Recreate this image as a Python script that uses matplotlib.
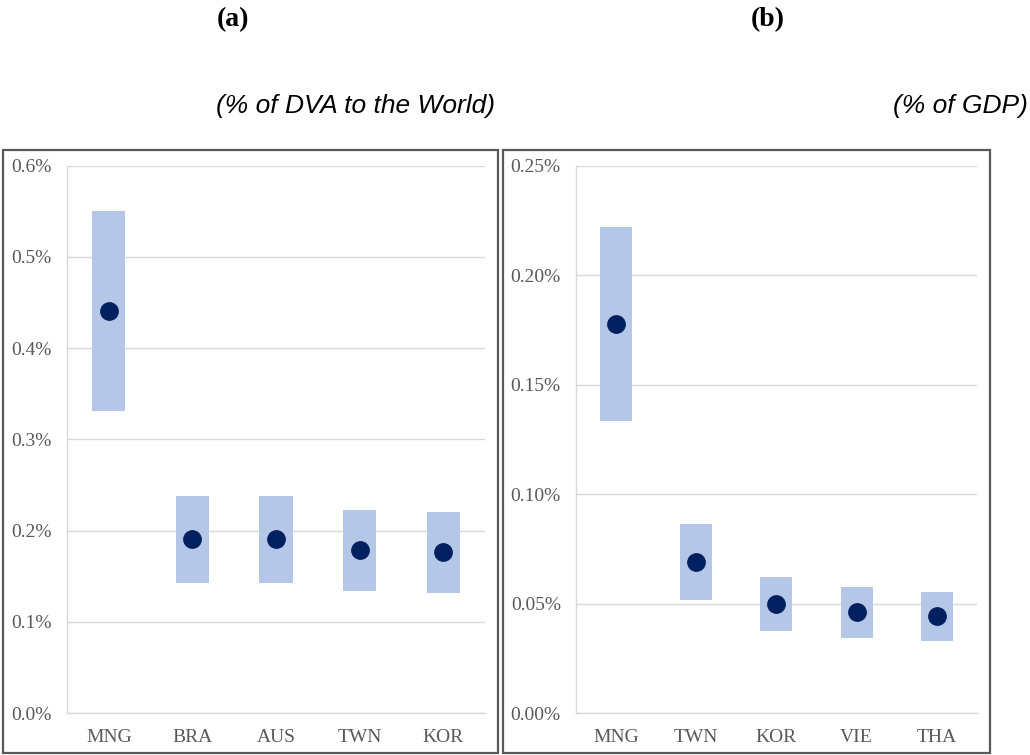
import matplotlib.pyplot as plt
from matplotlib.patches import Rectangle
from matplotlib.ticker import FuncFormatter
import numpy as np

# panel (a): % of DVA to the World
cats_a = ["MNG", "BRA", "AUS", "TWN", "KOR"]
low_a = [0.331, 0.143, 0.143, 0.134, 0.132]
high_a = [0.550, 0.238, 0.238, 0.223, 0.220]
mid_a = [0.441, 0.191, 0.191, 0.179, 0.177]

# panel (b): % of GDP
cats_b = ["MNG", "TWN", "KOR", "VIE", "THA"]
low_b = [0.1335, 0.0519, 0.0375, 0.0344, 0.0332]
high_b = [0.222, 0.0863, 0.0624, 0.0576, 0.0555]
mid_b = [0.178, 0.0692, 0.0500, 0.0464, 0.0446]

bar_col = "#b4c7e7"
dot_col = "#002060"
grid_col = "#d9d9d9"
tick_col = "#595959"
serif = "Liberation Serif"

fig = plt.figure(figsize=(10.3, 7.55), dpi=100)


def panel(rect, cats, low, high, mid, ymax, step, fmt):
    ax = fig.add_axes(rect)
    x = np.arange(len(cats))
    low = np.array(low)
    high = np.array(high)
    ax.bar(x, high - low, bottom=low, width=0.4, color=bar_col, zorder=2)
    ax.plot(x, mid, "o", color=dot_col, markersize=12.5, zorder=3)
    ax.set_xlim(-0.5, len(cats) - 0.5)
    ax.set_ylim(0, ymax)
    ax.set_yticks(np.arange(0, ymax + step / 2, step))
    ax.yaxis.set_major_formatter(FuncFormatter(lambda v, p: fmt.format(v)))
    ax.set_xticks(x)
    ax.set_xticklabels(cats)
    ax.grid(axis="y", color=grid_col, linewidth=1, zorder=0)
    for s in ["top", "right"]:
        ax.spines[s].set_visible(False)
    for s in ["left", "bottom"]:
        ax.spines[s].set_color(grid_col)
        ax.spines[s].set_linewidth(1)
    ax.tick_params(length=0, labelsize=14, colors=tick_col, labelfontfamily=serif)
    ax.tick_params(axis="x", pad=11.5)
    ax.tick_params(axis="y", pad=10.8)
    return ax


panel([0.065, 0.0556, 0.406, 0.725], cats_a, low_a, high_a, mid_a, 0.6, 0.1, "{:.1f}%")
panel([0.559, 0.0552, 0.3895, 0.725], cats_b, low_b, high_b, mid_b, 0.25, 0.05, "{:.2f}%")

# outer frames
for x0, x1 in [(0.003, 0.4835), (0.488, 0.961)]:
    fig.patches.append(Rectangle((x0, 0.0027), x1 - x0, 0.798, transform=fig.transFigure,
                                 fill=False, edgecolor="#595959", linewidth=1.6))

fig.text(0.2265, 0.974, "(a)", ha="center", va="center", fontsize=20,
         fontweight="bold", family=serif)
fig.text(0.745, 0.974, "(b)", ha="center", va="center", fontsize=20,
         fontweight="bold", family=serif)
fig.text(0.4806, 0.86, "(% of DVA to the World)", ha="right", va="center",
         fontsize=19, style="italic", family=["Liberation Sans Narrow", "Liberation Sans"])
fig.text(0.998, 0.86, "(% of GDP)", ha="right", va="center",
         fontsize=19, style="italic", family=["Liberation Sans Narrow", "Liberation Sans"])

fig.savefig("out.png", dpi=100)
